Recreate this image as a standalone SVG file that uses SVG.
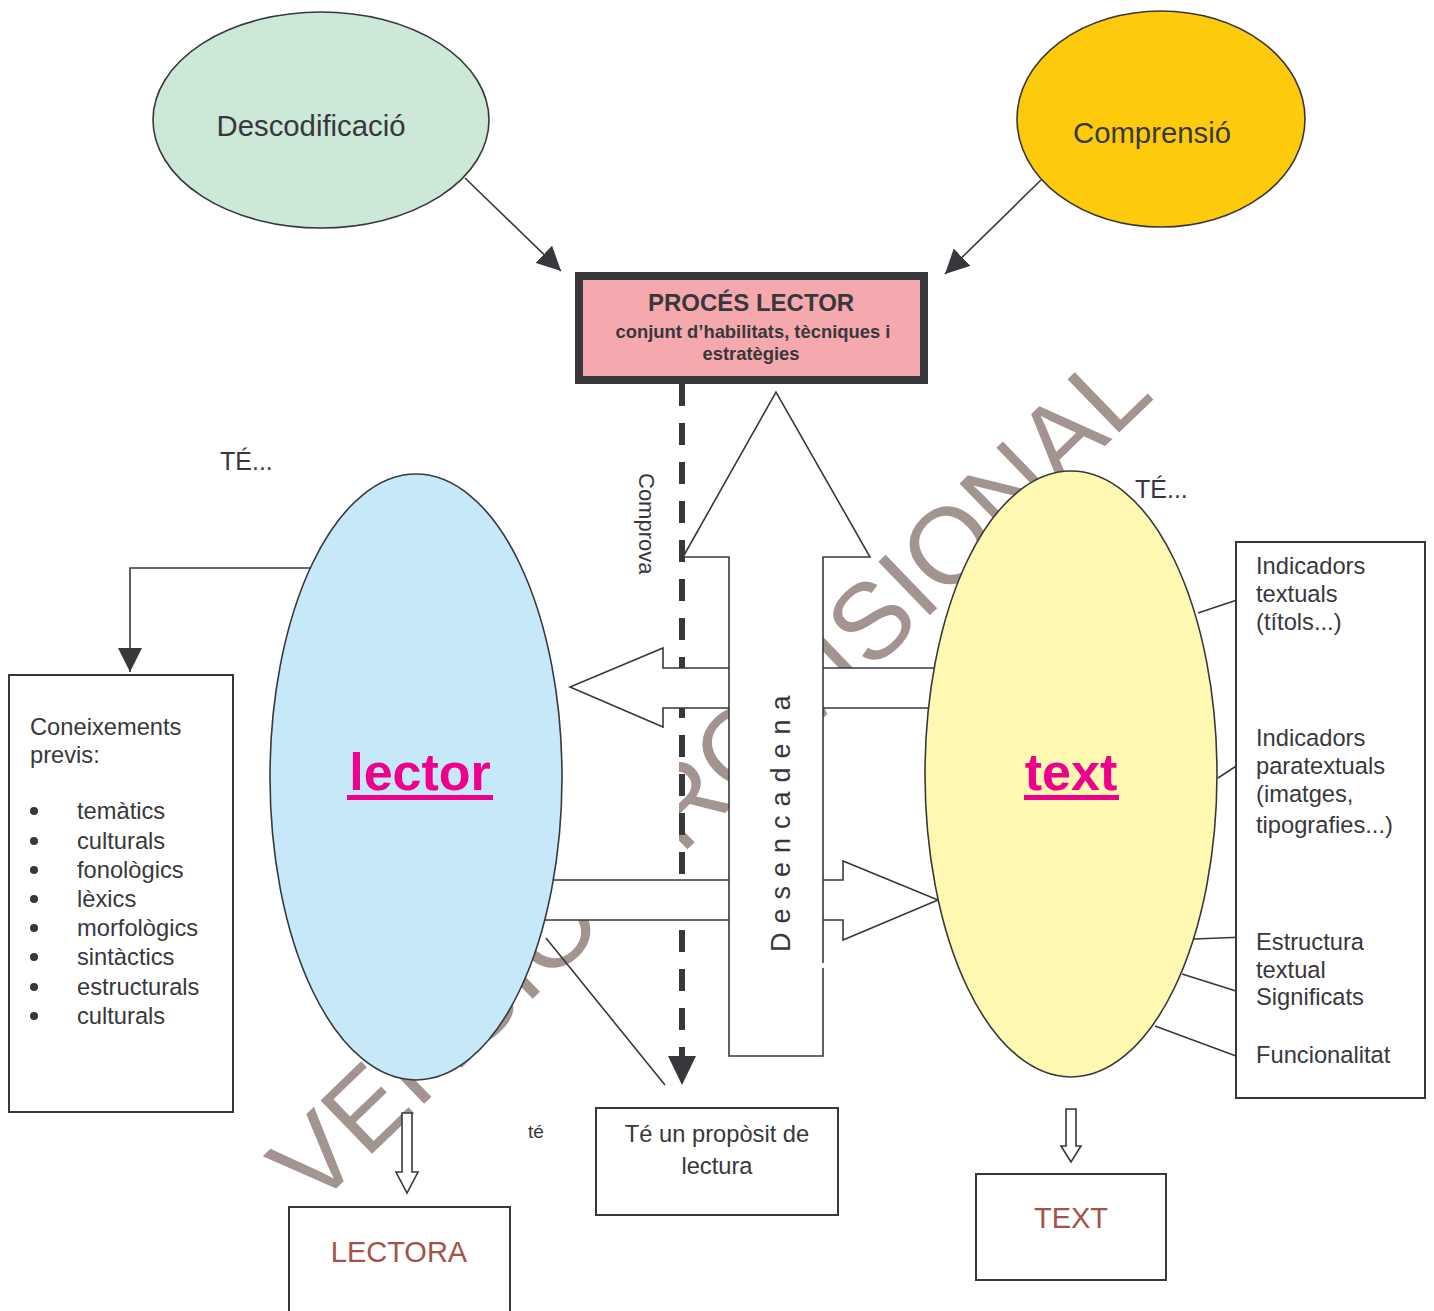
<svg xmlns="http://www.w3.org/2000/svg" width="1434" height="1311" viewBox="0 0 1434 1311">
<style>
.ln{fill:none;stroke:#38383c;stroke-width:1.6}
.box{fill:#fff;stroke:#38383c;stroke-width:2}
.ell{stroke:#38383c;stroke-width:1.6}
.t{font-family:"Liberation Sans",Arial,sans-serif;fill:#38383c}
.big{font-family:"Liberation Sans",Arial,sans-serif;font-weight:bold;font-size:52px;fill:#ec008c}
.red{font-family:"Liberation Sans",Arial,sans-serif;font-size:29px;fill:#a5524a}
.hol{fill:#fff;stroke:#38383c;stroke-width:1.6}
</style>
<defs>
<marker id="ah" markerUnits="userSpaceOnUse" markerWidth="26" markerHeight="24" refX="24" refY="12" orient="auto">
<path d="M0,0 L24,12 L0,24 Z" fill="#38383c"/>
</marker>
</defs>
<rect width="1434" height="1311" fill="#fff"/>

<text class="t" transform="translate(314,1210) rotate(-44)" font-size="108" style="fill:#a3948f">VERSIÓ PROVISIONAL</text>
<rect x="564" y="722" width="115" height="158" fill="#fff"/>

<g id="connectors">
<line class="ln" x1="465" y1="178" x2="561" y2="271" marker-end="url(#ah)"/>
<line class="ln" x1="1041" y1="180" x2="945" y2="274" marker-end="url(#ah)"/>
<polyline class="ln" points="310,568 130,568 130,672" marker-end="url(#ah)"/>
<line x1="682" y1="384" x2="682" y2="1058" stroke="#38383c" stroke-width="6" stroke-dasharray="22,17"/>
<path d="M668,1056 L696,1056 L682,1085 Z" fill="#38383c"/>
<polygon class="hol" points="955,668 663,668 663,648 570,687 663,727 663,708 955,708"/>
<polygon class="hol" points="535,880 843,880 843,861 938,900 843,940 843,920 535,920"/>
<line class="ln" x1="546" y1="938" x2="665" y2="1085"/>
<line class="ln" x1="1198" y1="613" x2="1252" y2="595"/>
<line class="ln" x1="1218" y1="778" x2="1253" y2="755"/>
<line class="ln" x1="1312" y1="706" x2="1312" y2="855" style="stroke-width:2"/>
<line class="ln" x1="1194" y1="939" x2="1245" y2="937"/>
<line class="ln" x1="1182" y1="974" x2="1236" y2="991"/>
<line class="ln" x1="1155" y1="1026" x2="1236" y2="1056"/>
<polygon class="hol" points="402,1113 412,1113 412,1172 418,1172 407,1193 396,1172 402,1172"/>
<polygon class="hol" points="1066,1109 1076,1109 1076,1146 1081,1146 1071,1162 1061,1146 1066,1146"/>
</g>

<g id="desencadena">
<polygon points="729,1056 729,557 683,557 776,392 870,557 823,557 823,1056" fill="#fff"/>
<path class="ln" d="M823,963 V557 H870 L776,392 L683,557 H729 V1056 H823 V968"/>
<text class="t" transform="translate(790,952) rotate(-90)" font-size="27" letter-spacing="9">Desencadena</text>
</g>
<text class="t" transform="translate(639,473) rotate(90)" font-size="22">Comprova</text>

<g id="descodificacio">
<ellipse class="ell" cx="321" cy="120" rx="168" ry="108" fill="#cce8d6"/>
<text class="t" x="311" y="136" font-size="29.3" text-anchor="middle">Descodificació</text>
</g>
<g id="comprensio">
<ellipse class="ell" cx="1161" cy="119" rx="144" ry="108" fill="#fdcb0b"/>
<text class="t" x="1152" y="143" font-size="29.3" text-anchor="middle">Comprensió</text>
</g>
<g id="proces">
<rect x="579" y="276" width="345" height="104" fill="#f5a9ae" stroke="#38383c" stroke-width="8"/>
<text class="t" x="751" y="311" font-size="24" font-weight="bold" text-anchor="middle">PROCÉS LECTOR</text>
<text class="t" x="753" y="338" font-size="18.4" font-weight="bold" text-anchor="middle">conjunt d’habilitats, tècniques i</text>
<text class="t" x="751" y="360" font-size="18.4" font-weight="bold" text-anchor="middle">estratègies</text>
</g>

<g id="lector">
<ellipse class="ell" cx="416" cy="777" rx="146" ry="303" fill="#c5e9f9"/>
<text class="big" x="420" y="790" text-anchor="middle">lector</text>
<rect x="347" y="795" width="146" height="5" fill="#ec008c"/>
</g>
<g id="text">
<ellipse class="ell" cx="1071" cy="774" rx="146" ry="303" fill="#fff8b0"/>
<text class="big" x="1071" y="790" text-anchor="middle">text</text>
<rect x="1024" y="795" width="95" height="5" fill="#ec008c"/>
</g>

<text class="t" x="220" y="470" font-size="25">TÉ...</text>
<text class="t" x="1135" y="498" font-size="25">TÉ...</text>
<text class="t" x="528" y="1138" font-size="19">té</text>

<g id="coneixements">
<rect class="box" x="9" y="675" width="224" height="437"/>
<text class="t" font-size="23.7"><tspan x="30" y="735">Coneixements</tspan><tspan x="30" y="763">previs:</tspan></text>
<g fill="#38383c">
<circle cx="34" cy="811" r="4"/><circle cx="34" cy="841" r="4"/><circle cx="34" cy="870" r="4"/><circle cx="34" cy="899" r="4"/>
<circle cx="34" cy="928" r="4"/><circle cx="34" cy="957" r="4"/><circle cx="34" cy="987" r="4"/><circle cx="34" cy="1016" r="4"/>
</g>
<text class="t" font-size="23.7">
<tspan x="77" y="819">temàtics</tspan><tspan x="77" y="849">culturals</tspan><tspan x="77" y="878">fonològics</tspan><tspan x="77" y="907">lèxics</tspan>
<tspan x="77" y="936">morfològics</tspan><tspan x="77" y="965">sintàctics</tspan><tspan x="77" y="995">estructurals</tspan><tspan x="77" y="1024">culturals</tspan>
</text>
</g>

<g id="indicadors">
<rect class="box" x="1236" y="542" width="189" height="556"/>
<text class="t" font-size="23.7">
<tspan x="1256" y="574">Indicadors</tspan><tspan x="1256" y="602">textuals</tspan><tspan x="1256" y="630">(títols...)</tspan>
<tspan x="1256" y="746">Indicadors</tspan><tspan x="1256" y="774">paratextuals</tspan><tspan x="1256" y="802">(imatges,</tspan><tspan x="1256" y="833">tipografies...)</tspan>
<tspan x="1256" y="950">Estructura</tspan><tspan x="1256" y="978">textual</tspan><tspan x="1256" y="1005">Significats</tspan>
<tspan x="1256" y="1063">Funcionalitat</tspan>
</text>
</g>

<g id="proposit">
<rect class="box" x="596" y="1108" width="242" height="107"/>
<text class="t" font-size="23.7" text-anchor="middle"><tspan x="717" y="1142">Té un propòsit de</tspan><tspan x="717" y="1174">lectura</tspan></text>
</g>
<g id="lectora">
<rect class="box" x="289" y="1207" width="221" height="110"/>
<text class="red" x="399" y="1262" text-anchor="middle">LECTORA</text>
</g>
<g id="textbox">
<rect class="box" x="976" y="1174" width="190" height="106"/>
<text class="red" x="1071" y="1228" text-anchor="middle">TEXT</text>
</g>
</svg>
